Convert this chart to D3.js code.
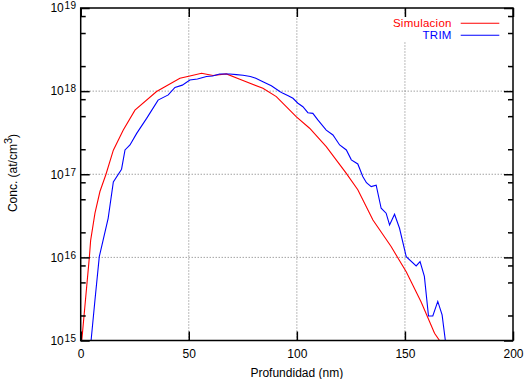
<!DOCTYPE html>
<html>
<head>
<meta charset="utf-8">
<script src="https://cdn.jsdelivr.net/npm/d3@7"></script>
<style>
  html, body { margin: 0; padding: 0; background: #fff; }
  svg { display: block; font-family: "Liberation Sans", Arial, Helvetica, sans-serif; }
</style>
</head>
<body>
<svg id="chart" width="524" height="379"></svg>
<script>
// ---- data ----
const simDepth = [0.5, 4.0, 4.6, 6.6, 8.9, 11.7, 15.1, 19.7, 25.1, 35.1, 45.9, 50.5, 55.9, 61.2, 67.4, 73.6, 84.3, 90.5, 99.8, 105.9, 113.6, 122.8, 128.2, 135.2, 143.6, 150.6, 157.5, 163.7, 166.0, 167.5];
const simConc  = [1.0e15, 1.0e16, 1.6e16, 3.4e16, 6.2e16, 1.0e17, 1.95e17, 3.4e17, 5.9e17, 9.9e17, 1.43e18, 1.52e18, 1.64e18, 1.54e18, 1.61e18, 1.39e18, 1.08e18, 8.6e17, 4.9e17, 3.58e17, 2.15e17, 1.03e17, 6.5e16, 2.82e16, 1.35e16, 6.7e15, 2.9e15, 1.22e15, 1.0e15, 8.0e14];

const trimDepth = [4.8, 6.6, 8.6, 10.4, 12.7, 15.1, 18.9, 20.5, 22.8, 25.9, 30.5, 35.8, 40.5, 43.6, 47.0, 50.5, 54.0, 58.2, 61.0, 64.3, 69.0, 72.0, 75.1, 78.5, 81.0, 84.3, 88.2, 92.1, 93.6, 96.0, 98.2, 100.5, 102.8, 105.1, 107.4, 109.7, 113.6, 116.7, 119.8, 122.9, 125.2, 128.2, 130.5, 132.2, 134.4, 136.7, 139.0, 141.3, 142.9, 145.2, 147.5, 150.6, 155.2, 157.0, 159.0, 160.9, 162.9, 165.2, 167.2, 168.7, 169.5];
const trimConc  = [1.0e15, 3.07e15, 1.02e16, 1.62e16, 2.95e16, 8.1e16, 1.15e17, 1.96e17, 2.25e17, 3.1e17, 4.7e17, 7.8e17, 9.0e17, 1.11e18, 1.18e18, 1.36e18, 1.40e18, 1.50e18, 1.52e18, 1.61e18, 1.61e18, 1.58e18, 1.55e18, 1.50e18, 1.43e18, 1.30e18, 1.16e18, 9.9e17, 9.4e17, 8.8e17, 8.2e17, 7.15e17, 6.5e17, 5.5e17, 5.4e17, 4.5e17, 3.4e17, 2.97e17, 2.25e17, 1.96e17, 1.49e17, 1.33e17, 9.4e16, 7.9e16, 7.1e16, 7.4e16, 3.9e16, 3.4e16, 2.45e16, 3.3e16, 2.24e16, 1.02e16, 7.9e15, 8.9e15, 5.9e15, 1.97e15, 1.97e15, 2.95e15, 2.03e15, 1.0e15, 7.0e14];

const xTicks = [0, 50, 100, 150, 200];
const yMajorExps = [15, 16, 17, 18, 19];
const yMinorFactors = [2, 5, 8];
const seriesNames = ["Simulacion", "TRIM"];
const seriesColors = ["#ff0000", "#0000ff"];
const xLabel = "Profundidad (nm)";

// ---- layout ----
const L = 80.7, R = 513, T = 8, B = 340.5;
const svg = d3.select("#chart");
const x = d3.scaleLinear().domain([0, 200]).range([L, R]);
const y = d3.scaleLog().domain([1e15, 1e19]).range([B, T]);

const yMajors = yMajorExps.map(e => Math.pow(10, e));
const yMinors = [];
yMajorExps.slice(0, -1).forEach(e => yMinorFactors.forEach(f => yMinors.push(f * Math.pow(10, e))));

// grid
const grid = svg.append("g").attr("stroke", "#777").attr("stroke-width", 1).attr("stroke-dasharray", "1,2").attr("fill", "none");
grid.selectAll(".gx").data(xTicks.filter(v => v > 0 && v < 200)).enter().append("line")
  .attr("x1", d => x(d)).attr("x2", d => x(d)).attr("y1", B).attr("y2", T);
grid.selectAll(".gy").data(yMajors.slice(1, -1)).enter().append("line")
  .attr("x1", L).attr("x2", R).attr("y1", d => y(d)).attr("y2", d => y(d));

// clip
svg.append("clipPath").attr("id", "clip").append("rect")
  .attr("x", L).attr("y", T).attr("width", R - L).attr("height", B - T);

const line = d3.line().x(d => x(d[0])).y(d => y(d[1]));
const series = [
  d3.zip(simDepth, simConc),
  d3.zip(trimDepth, trimConc)
];
series.forEach((s, i) => {
  svg.append("path").datum(s)
    .attr("clip-path", "url(#clip)")
    .attr("fill", "none").attr("stroke", seriesColors[i]).attr("stroke-width", 1.1)
    .attr("d", line);
});

// legend (opaque background hides grid)
svg.append("rect").attr("x", 388).attr("y", 14).attr("width", 118).attr("height", 27).attr("fill", "#fff");
seriesNames.forEach((n, i) => {
  const yy = 23.3 + i * 11.9;
  svg.append("text").attr("x", 451.7).attr("y", yy + 4.1).attr("text-anchor", "end")
    .attr("font-size", 11.5).attr("letter-spacing", 0.25).attr("fill", seriesColors[i]).text(n);
  svg.append("line").attr("x1", 460.7).attr("x2", 499.3).attr("y1", yy).attr("y2", yy)
    .attr("stroke", seriesColors[i]).attr("stroke-width", 1.1);
});

// axes (ticks inward)
function styleAxis(g) {
  g.select(".domain").remove();
  g.selectAll(".tick line").attr("stroke", "#000").attr("stroke-width", 1.5);
}
const axBottom = svg.append("g").attr("transform", `translate(0,${B})`)
  .call(d3.axisBottom(x).tickValues(xTicks).tickSizeInner(-9).tickSizeOuter(0).tickPadding(8.5).tickFormat(d3.format("d")));
styleAxis(axBottom);
axBottom.selectAll(".tick text").attr("font-size", 12).attr("fill", "#000");
axBottom.attr("font-family", null).attr("font-size", 12);

const axTop = svg.append("g").attr("transform", `translate(0,${T})`)
  .call(d3.axisTop(x).tickValues(xTicks).tickSizeInner(-9).tickSizeOuter(0).tickFormat(""));
styleAxis(axTop);

const axLeft = svg.append("g").attr("transform", `translate(${L},0)`)
  .call(d3.axisLeft(y).tickValues(yMajors).tickSizeInner(-9).tickSizeOuter(0).tickFormat(""));
styleAxis(axLeft);
const axLeftMinor = svg.append("g").attr("transform", `translate(${L},0)`)
  .call(d3.axisLeft(y).tickValues(yMinors).tickSizeInner(-5).tickSizeOuter(0).tickFormat(""));
styleAxis(axLeftMinor);
const axRight = svg.append("g").attr("transform", `translate(${R},0)`)
  .call(d3.axisRight(y).tickValues(yMajors).tickSizeInner(-9).tickSizeOuter(0).tickFormat(""));
styleAxis(axRight);
const axRightMinor = svg.append("g").attr("transform", `translate(${R},0)`)
  .call(d3.axisRight(y).tickValues(yMinors).tickSizeInner(-5).tickSizeOuter(0).tickFormat(""));
styleAxis(axRightMinor);

// y tick labels with superscripts
yMajorExps.forEach(e => {
  const yy = y(Math.pow(10, e));
  svg.append("text").attr("x", 63.8).attr("y", yy + 4.3).attr("text-anchor", "end")
    .attr("font-size", 12).attr("fill", "#000").text("10");
  svg.append("text").attr("x", 64.6).attr("y", yy + 1.3).attr("text-anchor", "start")
    .attr("font-size", 10).attr("letter-spacing", 0.3).attr("fill", "#000").text(String(e));
});

// frame
svg.append("rect").attr("x", L).attr("y", T).attr("width", R - L).attr("height", B - T)
  .attr("fill", "none").attr("stroke", "#000").attr("stroke-width", 1.5);

// axis labels
svg.append("text").attr("x", 296.8).attr("y", 376.5).attr("text-anchor", "middle")
  .attr("font-size", 12).attr("fill", "#000").text(xLabel);

const yl = svg.append("text").attr("transform", "translate(16.5,173) rotate(-90)")
  .attr("text-anchor", "middle").attr("font-size", 12).attr("fill", "#000");
yl.append("tspan").text("Conc. (at/cm");
yl.append("tspan").attr("dy", -5).attr("font-size", 11).text("3");
yl.append("tspan").attr("dy", 5).text(")");
</script>
</body>
</html>
